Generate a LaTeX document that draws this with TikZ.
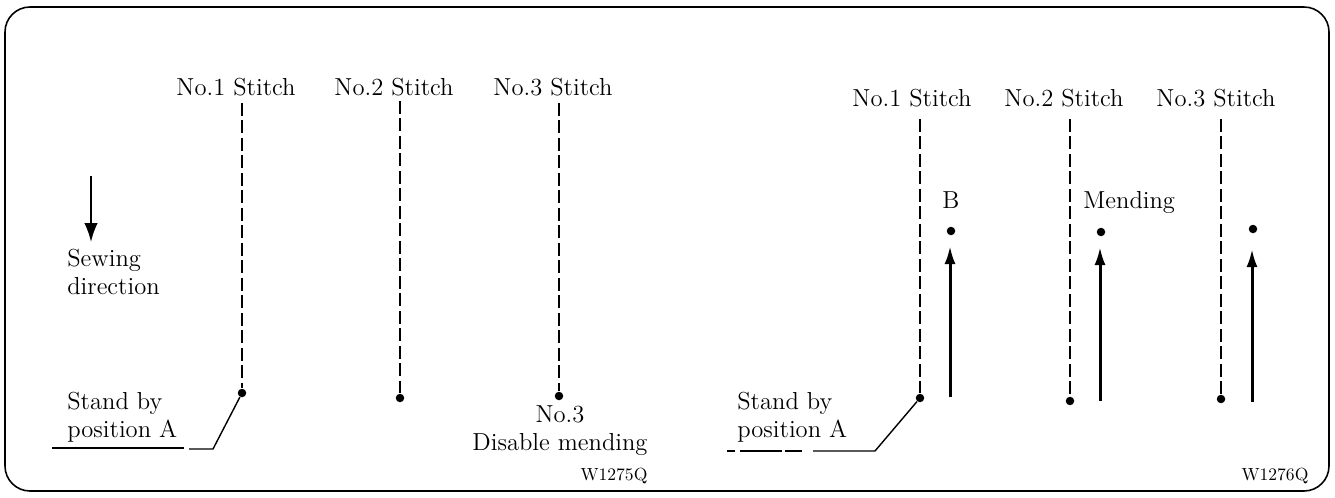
\documentclass[tikz,border=0pt]{standalone}
\usetikzlibrary{arrows.meta}

\begin{document}
\begin{tikzpicture}[x=0.02cm,y=-0.02cm,line cap=butt,line join=round,
  lbl/.style={font=\fontsize{14}{16}\selectfont,inner sep=0pt},
  code/.style={font=\fontsize{10}{12}\selectfont,inner sep=0pt},
  stitch/.style={line width=1.4pt,dash pattern=on 0.26cm off 0.09cm},
  dot/.style={circle,fill=black,inner sep=0pt,minimum size=0.17cm},
  feed/.style={-{Latex[length=0.36cm,width=0.22cm]},line width=1.7pt},
  sew/.style={-{Latex[length=0.38cm,width=0.27cm]},line width=1.1pt},
  lead/.style={line width=0.8pt}]
  \useasboundingbox (0,0) rectangle (1335,497);
  \draw[line width=0.9pt,rounded corners=0.5cm] (5,7) rectangle (1329,491);

  % ---- left: without mending ----
  \node[lbl,anchor=base] (lS1) at (236,95) {No.1 Stitch};
  \node[lbl,anchor=base] (lS2) at (394,95) {No.2 Stitch};
  \node[lbl,anchor=base] (lS3) at (553,95) {No.3 Stitch};
  \coordinate (l1top) at (242,103);
  \coordinate (l2top) at (400,101);
  \coordinate (l3top) at (559,103);
  \node[dot] (l1end) at (242,393) {};
  \node[dot] (l2end) at (400,398) {};
  \node[dot] (l3end) at (559,396) {};
  \draw[stitch] (l1top) -- (l1end);
  \draw[stitch] (l2top) -- (l2end);
  \draw[stitch] (l3top) -- (l3end);

  % sewing direction
  \coordinate (dirA) at (91,176);
  \coordinate (dirB) at (91,242);
  \draw[sew] (dirA) -- (dirB);
  \node[lbl,anchor=north west,align=left] (dirtxt) at (67,249) {Sewing\\direction};

  % stand by position
  \node[lbl,anchor=north west,align=left] (lstand) at (67,392) {Stand by\\position A};
  \coordinate (lw0) at (52,448);
  \coordinate (lw1) at (184,448);
  \coordinate (lw2) at (189,449);
  \coordinate (lw3) at (213,449);
  \draw[lead] (lw0) -- (lw1);
  \draw[lead] (lw2) -- (lw3) -- (l1end);

  \node[lbl,anchor=north,align=center] (l3txt) at (560,405) {No.3\\Disable mending};
  \node[code] (lcode) at (614,476) {W1275Q};

  % ---- right: with mending ----
  \node[lbl,anchor=base] (rS1) at (912,106) {No.1 Stitch};
  \node[lbl,anchor=base] (rS2) at (1064,106) {No.2 Stitch};
  \node[lbl,anchor=base] (rS3) at (1216,106) {No.3 Stitch};
  \coordinate (r1top) at (920,119);
  \coordinate (r2top) at (1070,119);
  \coordinate (r3top) at (1221,119);
  \node[dot] (r1end) at (920,398) {};
  \node[dot] (r2end) at (1070,401) {};
  \node[dot] (r3end) at (1221,399) {};
  \draw[stitch] (r1top) -- (r1end);
  \draw[stitch] (r2top) -- (r2end);
  \draw[stitch] (r3top) -- (r3end);

  % mending feed back
  \coordinate (m1a) at (950,397);
  \coordinate (m1b) at (950,246);
  \coordinate (m2a) at (1100,401);
  \coordinate (m2b) at (1100,247);
  \coordinate (m3a) at (1252,402);
  \coordinate (m3b) at (1252,249);
  \draw[feed] (m1a) -- (m1b);
  \draw[feed] (m2a) -- (m2b);
  \draw[feed] (m3a) -- (m3b);
  \node[dot] (m1dot) at (951,231) {};
  \node[dot] (m2dot) at (1101,232) {};
  \node[dot] (m3dot) at (1253,229) {};
  \node[lbl,anchor=base] (Btxt) at (951,208) {B};
  \node[lbl,anchor=base west] (mendtxt) at (1083,208) {Mending};

  % stand by position
  \node[lbl,anchor=north west,align=left] (rstand) at (737,392) {Stand by\\position A};
  \foreach \a/\b in {727/735,740/782,785/802}{\draw[lead] (\a,451) -- (\b,451);}
  \coordinate (rw0) at (813,451);
  \coordinate (rw1) at (875,451);
  \draw[lead] (rw0) -- (rw1) -- (r1end);

  \node[code] (rcode) at (1275,476) {W1276Q};
\end{tikzpicture}
\end{document}
